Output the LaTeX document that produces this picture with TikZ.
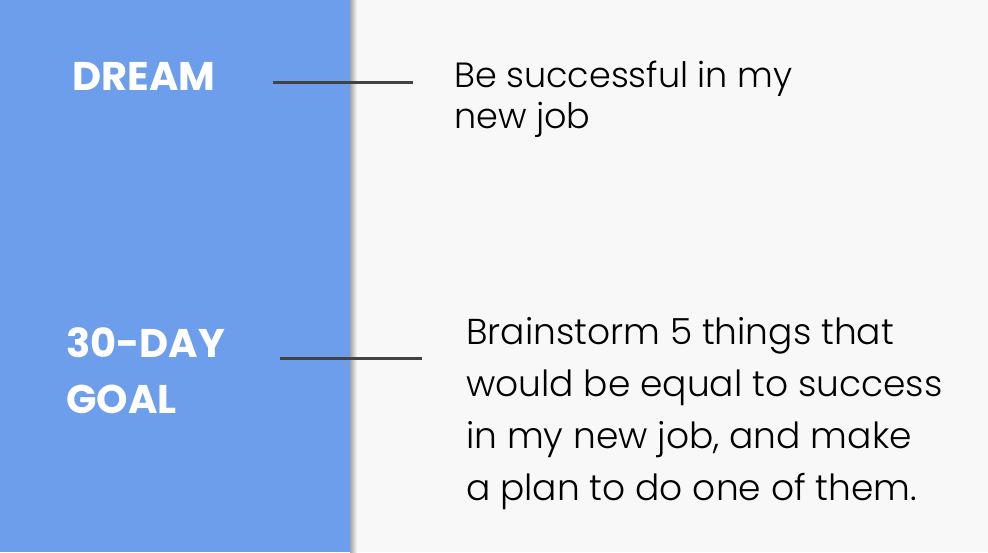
\documentclass[tikz,border=0pt]{standalone}
\usepackage{fontspec}
\setmainfont{Poppins}
\newfontfamily\bodyfont{Poppins Light}
\definecolor{panelblue}{HTML}{6D9EEB}
\definecolor{pagebg}{HTML}{F8F8F8}
\definecolor{rulegray}{HTML}{434343}
\definecolor{bodytext}{HTML}{000000}
\begin{document}
\begin{tikzpicture}[x=1pt,y=-1pt,
  heading/.style={inner sep=0pt, text=white, align=left, anchor=base west,
    font=\bfseries\fontsize{40}{56}\selectfont},
  bodytxt/.style={inner sep=0pt, text=bodytext, align=left, anchor=base west},
  connector/.style={draw=rulegray, line width=3pt}]
\useasboundingbox (0,0) rectangle (988,552);
\fill[pagebg] (0,0) rectangle (988,552);
\shade[left color=black!35, right color=pagebg] (350,0) rectangle (357,552);
\fill[panelblue] (0,0) rectangle (350,552);
\node[heading] (dream) at (72,90) {DREAM};
\node[heading] (goal) at (66,413) {30-DAY\\GOAL};
\node[bodytxt, font=\bodyfont\fontsize{35}{41}\selectfont] (dreamtxt) at (454,128) {Be successful in my\\new job};
\node[bodytxt, font=\bodyfont\fontsize{36}{52}\selectfont] (goaltxt) at (466,500) {Brainstorm 5 things that\\would be equal to success\\in my new job, and make\\a plan to do one of them.};
\coordinate (d1) at (273,82);
\coordinate (d2) at (413,82);
\coordinate (g1) at (280,358);
\coordinate (g2) at (422,358);
\draw[connector] (d1) -- (d2);
\draw[connector] (g1) -- (g2);
\end{tikzpicture}
\end{document}
